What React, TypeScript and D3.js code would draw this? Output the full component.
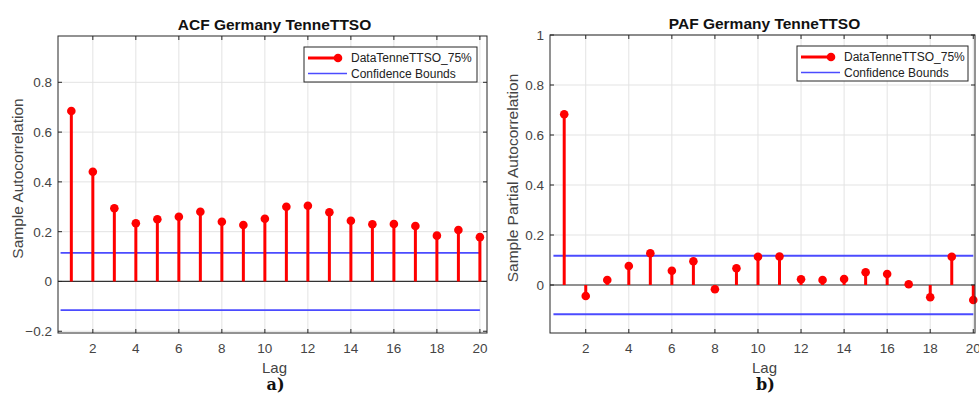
import React, {useEffect, useRef} from 'react';
import * as d3 from 'd3';

const lags = d3.range(1, 21);
const acfValues = [0.685, 0.441, 0.294, 0.234, 0.250, 0.260, 0.280, 0.240, 0.227, 0.252,
    0.300, 0.304, 0.278, 0.244, 0.230, 0.231, 0.223, 0.184, 0.207, 0.178];
const pacfValues = [0.683, -0.044, 0.020, 0.076, 0.127, 0.057, 0.095, -0.017, 0.067, 0.113,
    0.114, 0.023, 0.020, 0.024, 0.051, 0.044, 0.003, -0.049, 0.113, -0.060];
const acfBound = 0.115;
const pacfBound = 0.117;
const xTicks = [2, 4, 6, 8, 10, 12, 14, 16, 18, 20];
const acfYTicks = [-0.2, 0, 0.2, 0.4, 0.6, 0.8];
const pacfYTicks = [0, 0.2, 0.4, 0.6, 0.8, 1];
const seriesLabel = 'DataTenneTTSO_75%';
const boundsLabel = 'Confidence Bounds';

const FONT = '"Liberation Sans", Arial, Helvetica, sans-serif';
const BLUE = '#4b4bff';

function drawPanel(root, opts) {
    const {box, xDomain, yDomain, values, bound, yTicks, title, yLabel, tag, legendBox} = opts;
    const g = root.append('g');

    const x = d3.scaleLinear().domain(xDomain).range([box.left, box.right]);
    const y = d3.scaleLinear().domain(yDomain).range([box.bottom, box.top]);

    g.append('rect')
        .attr('x', box.left).attr('y', box.top)
        .attr('width', box.right - box.left).attr('height', box.bottom - box.top)
        .attr('fill', 'white');

    // grid
    g.append('g')
        .selectAll('line')
        .data(xTicks)
        .enter()
        .append('line')
        .attr('x1', d => x(d)).attr('x2', d => x(d))
        .attr('y1', box.top).attr('y2', box.bottom)
        .attr('stroke', '#e3e3e3').attr('stroke-width', 1);
    g.append('g')
        .selectAll('line')
        .data(yTicks)
        .enter()
        .append('line')
        .attr('x1', box.left).attr('x2', box.right)
        .attr('y1', d => y(d)).attr('y2', d => y(d))
        .attr('stroke', '#e3e3e3').attr('stroke-width', 1);

    // confidence bounds
    [bound, -bound].forEach(b => {
        g.append('line')
            .attr('x1', x(0.5)).attr('x2', x(20))
            .attr('y1', y(b)).attr('y2', y(b))
            .attr('stroke', BLUE).attr('stroke-width', 1.8);
    });

    // zero line
    g.append('line')
        .attr('x1', box.left).attr('x2', box.right)
        .attr('y1', y(0)).attr('y2', y(0))
        .attr('stroke', '#333').attr('stroke-width', 1.2);

    const data = lags.map((l, i) => ({lag: l, v: values[i]}));

    g.append('g')
        .selectAll('line')
        .data(data)
        .enter()
        .append('line')
        .attr('x1', d => x(d.lag)).attr('x2', d => x(d.lag))
        .attr('y1', y(0)).attr('y2', d => y(d.v))
        .attr('stroke', '#ff0000').attr('stroke-width', 3);

    g.append('g')
        .selectAll('circle')
        .data(data)
        .enter()
        .append('circle')
        .attr('cx', d => x(d.lag)).attr('cy', d => y(d.v))
        .attr('r', 4.3)
        .attr('fill', '#ff0000');

    // axes box
    g.append('rect')
        .attr('x', box.left).attr('y', box.top)
        .attr('width', box.right - box.left).attr('height', box.bottom - box.top)
        .attr('fill', 'none').attr('stroke', '#262626').attr('stroke-width', 1);

    // tick marks
    xTicks.forEach(t => {
        g.append('line').attr('x1', x(t)).attr('x2', x(t)).attr('y1', box.bottom).attr('y2', box.bottom - 4)
            .attr('stroke', '#262626');
        g.append('line').attr('x1', x(t)).attr('x2', x(t)).attr('y1', box.top).attr('y2', box.top + 4)
            .attr('stroke', '#262626');
    });
    yTicks.forEach(t => {
        g.append('line').attr('x1', box.left).attr('x2', box.left + 4).attr('y1', y(t)).attr('y2', y(t))
            .attr('stroke', '#262626');
        g.append('line').attr('x1', box.right).attr('x2', box.right - 4).attr('y1', y(t)).attr('y2', y(t))
            .attr('stroke', '#262626');
    });

    // tick labels
    g.append('g')
        .selectAll('text')
        .data(xTicks)
        .enter()
        .append('text')
        .attr('x', d => x(d)).attr('y', box.bottom + 20)
        .attr('text-anchor', 'middle')
        .attr('font-family', FONT).attr('font-size', 13.5).attr('fill', '#444')
        .text(d => d);
    g.append('g')
        .selectAll('text')
        .data(yTicks)
        .enter()
        .append('text')
        .attr('x', box.left - 6).attr('y', d => y(d) + 5)
        .attr('text-anchor', 'end')
        .attr('font-family', FONT).attr('font-size', 13.5).attr('fill', '#444')
        .text(d => d3.format('~g')(d));

    // title
    g.append('text')
        .attr('x', (box.left + box.right) / 2 + 2).attr('y', box.top - 6)
        .attr('text-anchor', 'middle')
        .attr('font-family', FONT).attr('font-size', 15.5).attr('font-weight', 'bold').attr('fill', '#111')
        .text(title);

    // axis labels
    g.append('text')
        .attr('x', (box.left + box.right) / 2 + 2).attr('y', box.bottom + 40)
        .attr('text-anchor', 'middle')
        .attr('font-family', FONT).attr('font-size', 15).attr('fill', '#444')
        .text('Lag');
    g.append('text')
        .attr('transform', `translate(${opts.yLabelX},${(box.top + box.bottom) / 2 - 6}) rotate(-90)`)
        .attr('text-anchor', 'middle')
        .attr('font-family', FONT).attr('font-size', 15.5).attr('fill', '#444')
        .text(yLabel);

    // panel tag
    g.append('text')
        .attr('x', (box.left + box.right) / 2 + 3).attr('y', box.bottom + 57)
        .attr('text-anchor', 'middle')
        .attr('font-family', '"DejaVu Serif", serif').attr('font-size', 16).attr('font-weight', 'bold').attr('fill', '#111')
        .text(tag);

    // legend
    const lg = g.append('g');
    lg.append('rect')
        .attr('x', legendBox.x).attr('y', legendBox.y)
        .attr('width', legendBox.w).attr('height', legendBox.h)
        .attr('fill', 'white').attr('stroke', '#262626').attr('stroke-width', 1);
    const r1 = legendBox.y + 11;
    const r2 = legendBox.y + 26.5;
    lg.append('line')
        .attr('x1', legendBox.x + 4).attr('x2', legendBox.x + 33)
        .attr('y1', r1).attr('y2', r1)
        .attr('stroke', '#ff0000').attr('stroke-width', 3);
    lg.append('circle')
        .attr('cx', legendBox.x + 34).attr('cy', r1).attr('r', 4.3).attr('fill', '#ff0000');
    lg.append('line')
        .attr('x1', legendBox.x + 4).attr('x2', legendBox.x + 43)
        .attr('y1', r2).attr('y2', r2)
        .attr('stroke', BLUE).attr('stroke-width', 1.3);
    lg.append('text')
        .attr('x', legendBox.x + 47).attr('y', r1 + 4.3)
        .attr('font-family', FONT).attr('font-size', 12).attr('fill', '#222')
        .text(seriesLabel);
    lg.append('text')
        .attr('x', legendBox.x + 47).attr('y', r2 + 4.3)
        .attr('font-family', FONT).attr('font-size', 12).attr('fill', '#222')
        .text(boundsLabel);
}

export default function App() {
    const svgRef = useRef(null);

    useEffect(() => {
        const svg = d3.select(svgRef.current);
        svg.selectAll('*').remove();

        drawPanel(svg, {
            box: {left: 58, right: 487, top: 36, bottom: 333},
            xDomain: [0.38, 20.33],
            yDomain: [-0.207, 0.986],
            values: acfValues,
            bound: acfBound,
            yTicks: acfYTicks,
            title: 'ACF Germany TenneTTSO',
            yLabel: 'Sample Autocorrelation',
            yLabelX: 23,
            tag: 'a)',
            legendBox: {x: 304, y: 47, w: 173, h: 35}
        });

        drawPanel(svg, {
            box: {left: 550, right: 975, top: 35, bottom: 333},
            xDomain: [0.34, 20.08],
            yDomain: [-0.192, 1],
            values: pacfValues,
            bound: pacfBound,
            yTicks: pacfYTicks,
            title: 'PAF Germany TenneTTSO',
            yLabel: 'Sample Partial Autocorrelation',
            yLabelX: 518,
            tag: 'b)',
            legendBox: {x: 797, y: 46, w: 171, h: 35}
        });
    }, []);

    return (
        <svg ref={svgRef} width={979} height={394}
             style={{position: 'absolute', left: 0, top: 0, background: 'white'}}/>
    );
}
